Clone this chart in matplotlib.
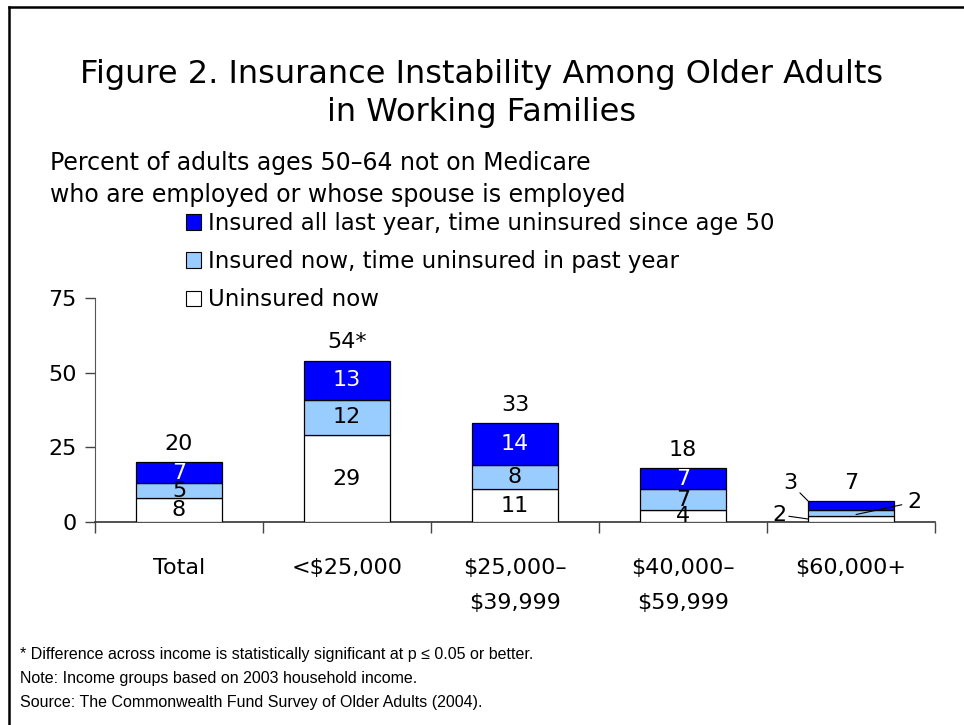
import matplotlib.pyplot as plt
from matplotlib.patches import Patch
from matplotlib.lines import Line2D
import numpy as np

categories = ["Total", "<$25,000", "$25,000–\n$39,999", "$40,000–\n$59,999", "$60,000+"]
uninsured_now = [8, 29, 11, 4, 2]
insured_now_gap = [5, 12, 8, 7, 2]
insured_all_year_gap = [7, 13, 14, 7, 3]
totals = [20, 54, 33, 18, 7]
total_labels = ["20", "54*", "33", "18", "7"]

C_BLUE = "#0000FF"
C_LIGHT = "#99CCFF"
C_WHITE = "#FFFFFF"
FONT = "DejaVu Sans"
FS = 16

fig = plt.figure(figsize=(9.64, 7.25), dpi=100)
W, H = 964, 725


def fx(px):
    return px / W


def fy(py):
    return 1 - py / H


# frame on top and left, like the cropped original
fig.add_artist(Line2D([fx(9), fx(9)], [fy(7), 0], color="black", lw=1.8))
fig.add_artist(Line2D([fx(9), 1], [fy(7), fy(7)], color="black", lw=1.8))

fig.text(0.5, fy(75), "Figure 2. Insurance Instability Among Older Adults",
         ha="center", va="center", fontsize=23, family=FONT)
fig.text(0.5, fy(112), "in Working Families",
         ha="center", va="center", fontsize=23, family=FONT)
fig.text(fx(50), fy(163), "Percent of adults ages 50–64 not on Medicare",
         ha="left", va="center", fontsize=17, family=FONT)
fig.text(fx(50), fy(195), "who are employed or whose spouse is employed",
         ha="left", va="center", fontsize=17, family=FONT)

ax = fig.add_axes([fx(95), fy(522), fx(935) - fx(95), fy(298) - fy(522)])
x = np.arange(len(categories))
bw = 0.51
s1 = np.array(uninsured_now)
s2 = np.array(insured_now_gap)
s3 = np.array(insured_all_year_gap)
ax.bar(x, s1, bw, color=C_WHITE, edgecolor="black", linewidth=0.9, zorder=3)
ax.bar(x, s2, bw, bottom=s1, color=C_LIGHT, edgecolor="black", linewidth=0.9, zorder=3)
ax.bar(x, s3, bw, bottom=s1 + s2, color=C_BLUE, edgecolor="black", linewidth=0.9, zorder=3)

ax.set_xlim(-0.5, len(categories) - 0.5)
ax.set_ylim(0, 75)
ax.set_yticks([0, 25, 50, 75])
ax.tick_params(axis="y", labelsize=FS, length=7, width=1, color="#444444", pad=6)
ax.set_xticks(np.arange(len(categories) + 1) - 0.5)
ax.set_xticklabels([])
ax.tick_params(axis="x", length=8, width=1, color="#444444")
ax.set_xticks(x, minor=True)
ax.set_xticklabels(categories, minor=True, fontsize=FS, linespacing=1.95, va="top")
ax.tick_params(axis="x", which="minor", length=0, pad=26)
for sp in ["top", "right"]:
    ax.spines[sp].set_visible(False)
ax.spines["left"].set_color("#555555")
ax.spines["bottom"].set_color("#333333")
ax.spines["bottom"].set_linewidth(1.2)

# segment labels (not on the tiny $60,000+ bar)
for i in range(len(categories) - 1):
    ax.text(x[i], s1[i] / 2, str(s1[i]), ha="center", va="center", fontsize=FS, zorder=4)
    ax.text(x[i], s1[i] + s2[i] / 2, str(s2[i]), ha="center", va="center", fontsize=FS, zorder=4)
    ax.text(x[i], s1[i] + s2[i] + s3[i] / 2, str(s3[i]), ha="center", va="center",
            fontsize=FS, color="white", zorder=4)

for i in range(len(categories)):
    ax.annotate(total_labels[i], (x[i], totals[i]), xytext=(0, 6), textcoords="offset points",
                ha="center", va="bottom", fontsize=FS)

# leader-line labels for the small $60,000+ bar
k = len(categories) - 1
ax.annotate(str(s3[k]), xy=(x[k] - bw / 2, s1[k] + s2[k] + s3[k]), xytext=(-13, 13),
            textcoords="offset points", ha="center", va="center", fontsize=FS,
            arrowprops=dict(arrowstyle="-", color="black", lw=0.8, shrinkA=0, shrinkB=0))
ax.annotate(str(s1[k]), xy=(x[k] - bw / 2, s1[k] / 2), xytext=(-21, 3),
            textcoords="offset points", ha="center", va="center", fontsize=FS,
            arrowprops=dict(arrowstyle="-", color="black", lw=0.8, shrinkA=0, shrinkB=0))
ax.annotate(str(s2[k]), xy=(x[k] + 0.03, s1[k] + s2[k] / 2 - 0.5), xytext=(42, 9),
            textcoords="offset points", ha="center", va="center", fontsize=FS,
            arrowprops=dict(arrowstyle="-", color="black", lw=0.8, shrinkA=2, shrinkB=0))

handles = [
    Patch(facecolor=C_BLUE, edgecolor="black", linewidth=0.8,
          label="Insured all last year, time uninsured since age 50"),
    Patch(facecolor=C_LIGHT, edgecolor="black", linewidth=0.8,
          label="Insured now, time uninsured in past year"),
    Patch(facecolor=C_WHITE, edgecolor="black", linewidth=0.8, label="Uninsured now"),
]
fig.legend(handles=handles, loc="upper left", bbox_to_anchor=(fx(186), fy(212)),
           frameon=False, fontsize=16.5, handlelength=0.65, handleheight=0.65,
           handletextpad=0.3, labelspacing=0.66, borderpad=0, borderaxespad=0)

foot = ["* Difference across income is statistically significant at p ≤ 0.05 or better.",
        "Note: Income groups based on 2003 household income.",
        "Source: The Commonwealth Fund Survey of Older Adults (2004)."]
for j, t in enumerate(foot):
    fig.text(fx(20), fy(655 + 23.5 * j), t, ha="left", va="center", fontsize=11.5,
             family="Liberation Sans")

fig.savefig("out.png", dpi=100)
